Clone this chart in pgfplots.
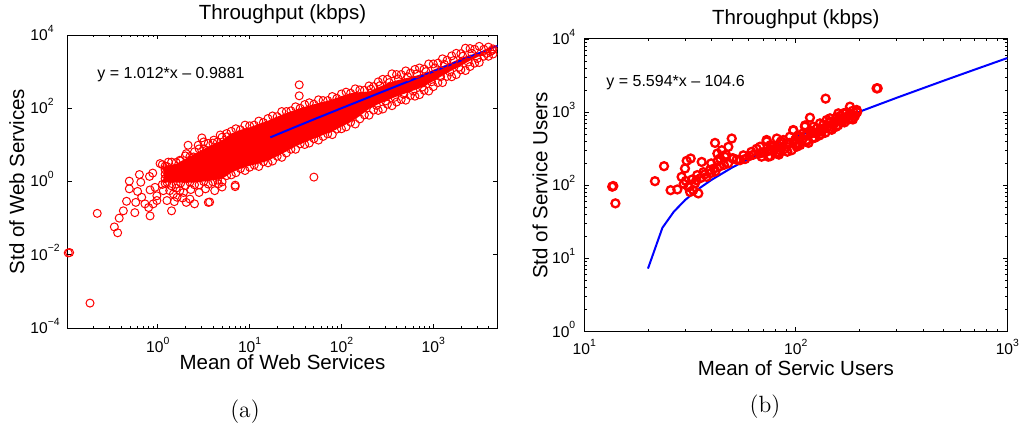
\documentclass[border=0pt]{standalone}
\usepackage{fontspec}
\usepackage{pgfplots}
\usepackage{pgfplotstable}
\pgfplotsset{compat=1.18}
\newfontfamily\helv{Liberation Sans}
\newcommand{\tl}[1]{10\rlap{\raisebox{4.1pt}[0pt][0pt]{\fontsize{5.2}{5.2}\selectfont #1}}}
\newcommand{\tlx}[1]{10\raisebox{4.1pt}[0pt][0pt]{\fontsize{5.2}{5.2}\selectfont #1}}

\pgfplotstableread{
u v
0.05 0.46
0.10 0.41
0.15 0.53
0.20 0.52
0.25 0.56
0.30 0.70
0.35 0.68
0.40 0.81
0.45 0.89
0.50 0.89
0.55 1.04
0.60 1.05
0.65 1.08
0.70 1.21
0.75 1.22
0.80 1.37
0.85 1.44
0.90 1.41
0.95 1.54
1.00 1.52
1.05 1.54
1.10 1.65
1.15 1.61
1.20 1.72
1.25 1.79
1.30 1.77
1.35 1.91
1.40 1.91
1.45 1.93
1.50 2.04
1.55 2.00
1.60 2.10
1.65 2.15
1.70 2.11
1.75 2.23
1.80 2.21
1.85 2.21
1.90 2.32
1.95 2.27
2.00 2.39
2.05 2.44
2.10 2.41
2.15 2.53
2.20 2.50
2.25 2.49
2.30 2.61
2.35 2.59
2.40 2.72
2.45 2.79
2.50 2.79
2.55 2.94
2.60 2.92
2.65 2.92
2.70 3.02
2.75 2.96
2.80 3.06
2.85 3.10
2.90 3.07
2.95 3.21
3.00 3.21
3.05 3.23
3.10 3.35
3.15 3.31
3.20 3.43
3.25 3.50
3.30 3.49
3.35 3.64
3.40 3.63
3.45 3.61
3.50 3.69
3.55 3.61
3.60 3.67
3.65 3.62
0.05 -0.08
0.10 -0.02
0.15 -0.12
0.20 -0.07
0.25 -0.04
0.30 -0.11
0.35 -0.02
0.40 -0.09
0.45 -0.09
0.50 0.00
0.55 -0.07
0.60 -0.01
0.65 0.04
0.70 -0.01
0.75 0.16
0.80 0.18
0.85 0.24
0.90 0.35
0.95 0.30
1.00 0.39
1.05 0.45
1.10 0.41
1.15 0.54
1.20 0.51
1.25 0.56
1.30 0.69
1.35 0.66
1.40 0.78
1.45 0.88
1.50 0.88
1.55 1.03
1.60 1.01
1.65 1.05
1.70 1.17
1.75 1.13
1.80 1.23
1.85 1.30
1.90 1.28
1.95 1.43
2.00 1.44
2.05 1.49
2.10 1.62
2.15 1.57
2.20 1.71
2.25 1.82
2.30 1.81
2.35 1.95
2.40 1.94
2.45 1.98
2.50 2.11
2.55 2.07
2.60 2.17
2.65 2.24
2.70 2.22
2.75 2.35
2.80 2.33
2.85 2.37
2.90 2.49
2.95 2.47
3.00 2.59
3.05 2.70
3.10 2.70
3.15 2.87
3.20 2.86
3.25 2.92
3.30 3.05
3.35 3.03
3.40 3.14
3.45 3.23
3.50 3.25
3.55 3.42
3.60 3.42
3.65 3.48
0.08 -0.05
0.08 0.08
0.08 0.20
0.08 0.32
0.08 0.42
3.62 3.55
3.58 3.50
3.64 3.58
2.32 2.52
2.42 2.62
2.52 2.70
2.62 2.80
2.72 2.86
2.82 2.94
2.92 3.00
3.02 3.10
3.12 3.20
3.22 3.30
3.32 3.42
3.42 3.50
2.38 2.08
2.48 2.20
2.58 2.30
2.68 2.38
2.78 2.47
2.88 2.58
2.98 2.72
3.08 2.86
3.18 2.99
3.28 3.12
3.38 3.26
3.48 3.36
-0.975 -1.95
-0.960 -1.94
-0.738 -3.32
-0.659 -0.87
-0.473 -1.24
-0.437 -1.40
-0.420 -1.00
-0.375 -0.80
-0.340 -0.54
-0.310 0.01
-0.310 -0.20
-0.250 -0.85
-0.240 -0.57
-0.220 -0.27
-0.200 0.19
-0.185 -0.02
-0.175 -0.43
-0.140 -0.61
-0.100 -0.71
-0.084 -0.94
-0.090 0.14
-0.055 0.23
-0.084 -0.23
-0.030 -0.16
-0.010 -0.52
-0.050 -0.61
-0.010 -0.39
0.025 0.49
0.060 -0.25
0.100 -0.52
0.115 0.53
0.150 -0.80
0.170 -0.34
0.210 -0.43
0.240 -0.25
0.310 -0.57
0.330 0.99
0.350 -0.48
0.400 -0.61
0.440 0.99
0.480 1.19
0.550 -0.57
0.565 -0.56
0.310 0.76
0.240 0.58
0.390 0.67
0.530 0.85
0.500 1.08
0.610 1.13
0.680 1.27
0.750 1.31
0.843 -0.14
0.843 -0.10
0.660 -0.06
1.700 0.12
1.540 2.64
1.540 2.34
0.13 -0.25
0.20 -0.18
0.28 -0.30
0.36 -0.22
0.45 -0.30
0.52 -0.20
0.62 -0.25
0.70 -0.15
0.18 -0.55
0.27 -0.45
}\leftpts

\pgfplotstableread{
u v
0.06 0.39
0.1 0.41
0.2 0.48
0.3 0.62
0.4 0.75
0.5 0.89
0.6 1.01
0.7 1.13
0.8 1.31
0.9 1.41
1.0 1.48
1.1 1.57
1.2 1.66
1.3 1.77
1.4 1.87
1.5 1.96
1.6 2.04
1.7 2.11
1.8 2.17
1.9 2.24
2.0 2.33
2.1 2.41
2.2 2.44
2.3 2.46
2.4 2.57
2.5 2.68
2.6 2.76
2.7 2.82
2.8 2.88
2.9 2.95
3.0 3.05
3.1 3.15
3.2 3.25
3.3 3.37
3.4 3.46
3.5 3.50
3.56 3.49
3.56 3.44
3.5 3.42
3.4 3.30
3.3 3.16
3.2 3.03
3.1 2.89
3.0 2.74
2.9 2.60
2.8 2.50
2.7 2.41
2.6 2.32
2.5 2.22
2.4 2.11
2.3 1.98
2.2 1.79
2.1 1.62
2.0 1.50
1.9 1.36
1.8 1.27
1.7 1.17
1.6 1.07
1.5 0.96
1.4 0.82
1.3 0.69
1.2 0.57
1.1 0.49
1.0 0.43
0.9 0.35
0.8 0.24
0.7 0.07
0.6 0.03
0.5 0.00
0.4 -0.03
0.3 -0.03
0.2 -0.03
0.1 -0.02
0.06 -0.01
}\leftcore

\pgfplotstableread{
u v
1.132 1.982
1.137 1.991
1.147 1.754
1.334 2.057
1.377 2.262
1.408 1.934
1.440 1.944
1.460 2.116
1.476 2.230
1.484 2.335
1.503 2.367
1.492 1.980
1.500 1.910
1.515 1.935
1.539 1.890
1.523 2.026
1.534 2.140
1.555 2.320
1.563 2.180
1.579 2.116
1.594 2.210
1.613 2.230
1.618 2.580
1.629 2.435
1.642 2.367
1.650 2.480
1.665 2.390
1.681 2.526
1.697 2.640
1.705 2.367
1.736 2.344
1.752 2.410
1.790 2.457
1.815 2.500
1.830 2.435
1.862 2.600
1.886 2.526
1.910 2.640
1.925 2.480
1.957 2.570
1.988 2.750
2.020 2.660
2.044 2.820
2.052 2.710
1.470 2.020
1.480 2.060
1.510 2.080
1.530 2.070
1.550 2.100
1.570 2.150
1.600 2.170
1.620 2.190
1.640 2.260
1.660 2.280
1.680 2.300
1.600 2.300
1.630 2.330
1.670 2.420
1.700 2.370
1.720 2.350
1.760 2.360
1.780 2.400
1.800 2.420
1.840 2.450
1.870 2.470
1.831 2.528
1.838 2.392
1.862 2.620
1.878 2.483
1.870 2.392
1.894 2.528
1.909 2.437
1.925 2.574
1.941 2.620
1.957 2.528
1.972 2.665
1.988 2.756
1.996 2.620
2.004 2.528
2.020 2.665
2.035 2.711
2.043 2.802
2.051 2.620
2.067 2.925
2.075 2.711
2.083 2.802
2.098 2.711
2.114 2.847
2.130 2.779
2.141 3.185
2.146 2.893
2.162 2.916
2.169 2.802
2.185 2.870
2.201 2.984
2.209 2.893
2.225 2.984
2.240 2.938
2.256 3.075
2.264 2.916
2.288 3.030
2.387 3.326
2.382 3.326
1.850 2.450
1.880 2.550
1.900 2.500
1.920 2.450
1.930 2.600
1.950 2.500
1.970 2.580
1.980 2.480
2.000 2.570
2.010 2.680
2.020 2.550
2.030 2.620
2.050 2.680
2.060 2.580
2.070 2.750
2.080 2.650
2.090 2.720
2.100 2.780
2.110 2.680
2.120 2.740
2.130 2.830
2.140 2.720
2.150 2.800
2.160 2.860
2.170 2.760
2.180 2.840
2.190 2.920
2.200 2.820
2.210 2.950
2.220 2.880
2.230 2.920
2.240 3.000
2.250 2.900
2.260 2.960
2.270 3.020
2.280 2.950
2.290 3.000
2.270 2.900
2.230 2.860
2.190 2.800
2.160 2.770
2.120 2.700
2.090 2.650
2.050 2.600
2.010 2.550
1.960 2.460
1.920 2.420
1.880 2.400
}\rightpts

\begin{document}
\begin{tikzpicture}
\useasboundingbox (0,0) rectangle (510.5pt,-216.5pt);

\begin{axis}[
  scale only axis,
  xmode=log, ymode=log,
  axis line style={black, line width=0.5pt},
  tick style={black, line width=0.4pt},
  major tick length=2.2pt,
  minor tick length=1.2pt,
  tick align=inside,
  clip=false,
  every axis title shift=0pt,
  ticklabel style={font=\helv\fontsize{7.8}{8}\selectfont},
  label style={font=\helv\fontsize{10.25}{12}\selectfont},
  at={(33.75pt,-17.5pt)}, anchor=north west,
  width=215pt, height=146.5pt,
  xmin=0.104, xmax=5000, ymin=1e-4, ymax=1e4,
  xtick={1,10,100,1000},
  xticklabels={\tlx{0},\tlx{1},\tlx{2},\tlx{3}},
  minor xtick={0.2,0.3,0.4,0.5,0.6,0.7,0.8,0.9,2,3,4,5,6,7,8,9,20,30,40,50,60,70,80,90,200,300,400,500,600,700,800,900,2000,3000,4000,5000},
  ytick={1e-4,1e-2,1,1e2,1e4},
  yticklabels={\tl{−4},\tl{−2},\tl{0},\tl{2},\tl{4}},
  yminorticks=false,
  xticklabel style={yshift=-3.3pt},
  yticklabel style={anchor=east, xshift=-6.3pt},
  title={Throughput (kbps)},
  title style={font=\helv\fontsize{10.25}{12}\selectfont, anchor=center, at={(axis description cs:0.5,1.071)}},
  xlabel={Mean of Web Services},
  xlabel style={anchor=center, at={(axis description cs:0.5,-0.116)}},
  ylabel={Std of Web Services},
  ylabel style={anchor=center, at={(axis description cs:-0.118,0.5)}},
]
\addplot[fill=red, draw=none, mark=none] table[x expr={10^(\thisrow{u})}, y expr={10^(\thisrow{v})}] {\leftcore};
\addplot[only marks, mark=o, mark size=2.0pt, red, line width=0.5pt] table[x expr={10^(\thisrow{u})}, y expr={10^(\thisrow{v})}] {\leftpts};
\addplot[blue, line width=1pt, mark=none] coordinates {(16.8,16.013) (20,19.252) (30,29.372) (50,49.612) (100,100.21) (300,302.61) (1000,1011.0) (3000,3035.0) (5000,5059.0)};
\node[anchor=west, inner sep=0pt, font=\helv\fontsize{8}{9.6}\selectfont] at (rel axis cs:0.0686,0.8635) {y = 1.012*x – 0.9881};
\end{axis}

\begin{axis}[
  scale only axis,
  xmode=log, ymode=log,
  axis line style={black, line width=0.5pt},
  tick style={black, line width=0.4pt},
  major tick length=2.2pt,
  minor tick length=1.2pt,
  tick align=inside,
  clip=false,
  every axis title shift=0pt,
  ticklabel style={font=\helv\fontsize{7.8}{8}\selectfont},
  label style={font=\helv\fontsize{10.25}{12}\selectfont},
  at={(292.15pt,-19.5pt)}, anchor=north west,
  width=211.5pt, height=146.35pt,
  xmin=10, xmax=1000, ymin=1, ymax=1e4,
  xtick={10,100,1000},
  xticklabels={\tlx{1},\tlx{2},\tlx{3}},
  minor xtick={20,30,40,50,60,70,80,90,200,300,400,500,600,700,800,900},
  ytick={1,10,100,1000,10000},
  yticklabels={\tl{0},\tl{1},\tl{2},\tl{3},\tl{4}},
  minor ytick={2,3,4,5,6,7,8,9,20,30,40,50,60,70,80,90,200,300,400,500,600,700,800,900,2000,3000,4000,5000,6000,7000,8000,9000},
  xticklabel style={yshift=-2.5pt},
  yticklabel style={anchor=east, xshift=-3.9pt},
  title={Throughput (kbps)},
  title style={font=\helv\fontsize{10.25}{12}\selectfont, anchor=center, at={(axis description cs:0.5,1.068)}},
  xlabel={Mean of Servic Users},
  xlabel style={anchor=center, at={(axis description cs:0.5,-0.124)}},
  ylabel={Std of Service Users},
  ylabel style={anchor=center, at={(axis description cs:-0.1047,0.5)}},
]
\addplot[only marks, mark=o, mark size=2.0pt, red, line width=1.15pt] table[x expr={10^(\thisrow{u})}, y expr={10^(\thisrow{v})}] {\rightpts};
\addplot[blue, line width=1pt, mark=none] coordinates {(20,7.28) (23.4,26.30) (26.5,43.64) (30,63.22) (35,91.19) (40,119.16) (50,175.1) (60,231.04) (80,342.92) (100,454.8) (150,734.5) (200,1014.2) (300,1573.6) (500,2692.4) (700,3811.2) (1000,5489.4)};
\node[anchor=west, inner sep=0pt, font=\helv\fontsize{8}{9.6}\selectfont] at (rel axis cs:0.0513,0.8497) {y = 5.594*x – 104.6};
\end{axis}

\node[inner sep=0pt, font=\fontsize{11.75}{14}\selectfont] at (122.5pt,-206pt) {(a)};
\node[inner sep=0pt, font=\fontsize{11.75}{14}\selectfont] at (382.5pt,-203.5pt) {(b)};
\end{tikzpicture}
\end{document}
